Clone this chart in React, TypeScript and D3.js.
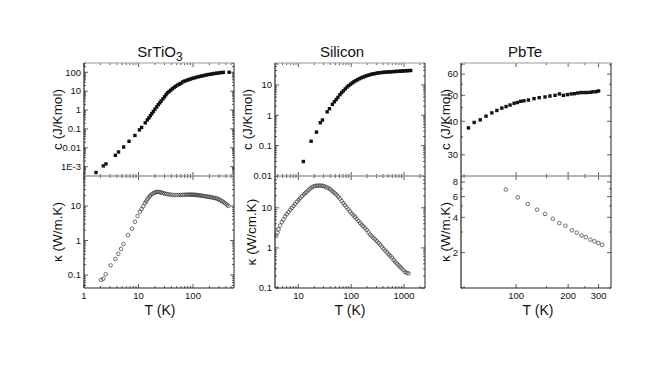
import React from 'react';
import * as d3 from 'd3';

const FONT = '"Liberation Sans", Arial, Helvetica, sans-serif';

// ---- SrTiO3 ----
const strHeatT = [1.66, 2.26, 2.53, 3.76, 4.3, 5.35, 6.7, 8.6, 10.4, 11.4, 13.3, 14.5, 15.5, 16.5, 17.5, 18.7, 20, 21.5, 23, 24.5, 26, 28, 30, 32, 34, 36.5, 39, 42, 45, 48, 52, 56, 60, 65, 70, 76, 82, 89, 96, 104, 113, 123, 134, 146, 160, 175, 192, 210, 230, 252, 276, 300, 330, 360, 460];
const strHeatC = [4.9e-4, 1.1e-3, 1.4e-3, 4e-3, 6e-3, 0.011, 0.022, 0.045, 0.089, 0.12, 0.21, 0.3, 0.38, 0.5, 0.64, 0.83, 1.1, 1.45, 1.9, 2.4, 3.0, 3.9, 5.0, 6.5, 8.2, 9.6, 11.3, 13.5, 15.8, 18, 21, 23.5, 26, 31, 34, 37, 40, 43.5, 47, 50, 53.5, 57, 60.5, 64, 68, 72, 76, 79, 83, 87, 90, 93, 96, 99, 100];
const strKappaT = [2.05, 2.26, 2.5, 3.08, 3.76, 4.26, 4.77, 5.3, 6.4, 7.6, 8.6, 9.6, 10.6, 11.4, 12.2, 13.1, 13.8, 14.5, 15.3, 16.2, 17.2, 18.2, 19.3, 20.5, 21.8, 23.2, 24.7, 26.3, 28, 30, 32.5, 35, 38, 41.5, 45.5, 50, 55, 60, 65, 70, 75, 80, 85, 90, 95, 100, 106, 112, 118, 124, 131, 138, 146, 155, 165, 176, 188, 200, 213, 227, 242, 258, 275, 292, 310, 330, 350, 372, 395, 420, 445];
const strKappa = [0.072, 0.078, 0.105, 0.19, 0.29, 0.41, 0.57, 0.79, 1.44, 2.2, 3.5, 5.1, 6.8, 8.2, 9.8, 12, 13.5, 15.6, 17.5, 19.5, 21.3, 22.8, 24, 25, 25.5, 25.6, 25.2, 24.5, 23.8, 23, 22.3, 21.8, 21.4, 21.1, 20.9, 20.8, 20.8, 20.9, 21, 21.1, 21.2, 21.3, 21.3, 21.3, 21.3, 21.2, 21.1, 21, 20.8, 20.6, 20.3, 20.1, 19.8, 19.5, 19.1, 18.8, 18.6, 18.4, 18, 17.6, 17.2, 16.9, 16.5, 15.7, 15, 14.2, 13.4, 12.6, 11.8, 10.9, 10];

// ---- Silicon ----
const siHeatT = [12.4, 17.4, 22, 26, 28.5, 35, 38.7, 44, 48, 52, 56, 61, 66, 71, 77, 83, 90, 97, 105, 113, 122, 132, 143, 155, 168, 182, 197, 213, 230, 249, 270, 292, 316, 342, 370, 400, 433, 469, 508, 550, 595, 644, 697, 755, 817, 885, 958, 1037, 1123, 1216, 1340];
const siHeatC = [0.03, 0.14, 0.28, 0.57, 0.7, 1.3, 1.65, 2.3, 2.8, 3.3, 3.9, 4.8, 5.6, 6.4, 7.4, 8.5, 9.5, 10.6, 11.7, 12.8, 13.9, 15, 16.1, 17.2, 18.2, 19.2, 20.2, 21.1, 22, 22.8, 23.5, 24.1, 24.7, 25.2, 25.6, 26, 26.3, 26.6, 26.9, 27.2, 27.4, 27.7, 27.9, 28.1, 28.4, 28.6, 28.9, 29.2, 29.5, 29.8, 30];
const siKappaT = [3.8, 4.0, 4.2, 4.5, 4.85, 5.2, 5.6, 6.0, 6.5, 7.0, 7.5, 8.1, 8.7, 9.4, 10.1, 10.8, 11.7, 12.6, 13.5, 14.4, 15.5, 16.7, 17.9, 19.3, 20.8, 22.3, 24, 25.8, 27.7, 29.7, 32, 34.5, 37, 40, 43, 46, 49.5, 53, 57, 61, 66, 71, 76, 82, 88, 95, 102, 110, 118, 127, 137, 147, 158, 170, 183, 197, 212, 228, 245, 264, 284, 306, 330, 355, 382, 410, 442, 476, 512, 550, 592, 636, 680, 730, 785, 840, 900, 970, 1050, 1130, 1220];
const siKappa = [2.0, 2.4, 2.9, 3.6, 4.4, 5.1, 6.1, 6.9, 7.8, 8.9, 9.9, 11.2, 12.5, 14.1, 15.7, 17.4, 19.5, 21.5, 23.3, 25, 27.5, 30, 32.4, 34, 35, 35.5, 35.8, 35.7, 35.4, 35, 33.8, 32.3, 30.7, 29, 26.7, 24.6, 22.8, 21, 18.9, 16.9, 14.7, 13, 11.6, 10.3, 9.1, 8.1, 7.2, 6.5, 5.9, 5.3, 4.7, 4.2, 3.8, 3.45, 3.1, 2.8, 2.45, 2.15, 1.95, 1.78, 1.62, 1.47, 1.33, 1.2, 1.07, 0.95, 0.86, 0.77, 0.69, 0.63, 0.57, 0.5, 0.45, 0.41, 0.37, 0.34, 0.31, 0.28, 0.25, 0.24, 0.23];

// ---- PbTe ----
const pbHeatT = [53, 57.2, 62, 67, 72.4, 77.4, 82.7, 87.5, 92.3, 97.4, 101.8, 106.4, 111, 117.8, 127, 136, 147, 157, 168, 178, 187.7, 198, 208, 217, 227, 237, 247, 257, 268, 278, 290, 300];
const pbHeatC = [37.8, 39.6, 40.5, 41.8, 43.0, 43.9, 44.8, 45.4, 46.0, 46.7, 47.0, 47.5, 47.7, 48.0, 48.6, 49.0, 49.3, 49.7, 50, 50.6, 50, 50.3, 50.6, 50.7, 51, 51.2, 51.2, 51.2, 51.3, 51.5, 51.6, 51.9];
const pbKappaT = [87.2, 102.3, 116.8, 132.3, 147, 163, 178, 193, 210, 224, 239, 253, 269, 284, 299, 315];
const pbKappa = [6.9, 5.92, 5.2, 4.65, 4.28, 3.89, 3.57, 3.39, 3.1, 2.96, 2.8, 2.71, 2.58, 2.5, 2.42, 2.33];

// tick labels
const strHeatLabels = [0.001, 0.01, 0.1, 1, 10, 100];
const strKappaLabels = [0.1, 1, 10];
const strTLabels = [1, 10, 100];
const siHeatLabels = [0.01, 0.1, 1, 10];
const siKappaLabels = [0.1, 1, 10];
const siTLabels = [10, 100, 1000];
const pbTTicks = [50, 100, 150, 200, 250, 300];
const pbTLabels = [100, 200, 300];
const pbHeatTicks = [25, 30, 35, 40, 45, 50, 55, 60, 65];
const pbHeatLabels = [30, 40, 50, 60];
const pbKappaTicks = [1, 2, 3, 4, 5, 6, 7, 8, 9];
const pbKappaLabels = [2, 4, 6, 8];

const same = (a: number, b: number) => Math.abs(Math.log10(a) - Math.log10(b)) < 1e-6;
const zip = (a: number[], b: number[]) => a.map((v, i) => [v, b[i]] as [number, number]);
const fmt = (v: number) => (same(v, 0.001) ? '1E-3' : String(v));

const DARK = '#222';
const GRAY = '#9a9a9a';

function Box({ x, y, xTicks, xLabels, yTicks, yLabels, showX, pts, filled, yLabel }: any) {
  const [x0, x1] = x.range();
  const [yb, yt] = y.range();
  const isTop = !showX;
  const inY = (v: number) => y(v) <= yb + 0.01 && y(v) >= yt - 0.01;
  const inX = (v: number) => x(v) >= x0 - 0.01 && x(v) <= x1 + 0.01;
  return (
    <g>
      {xTicks.filter(inX).map((v: number, i: number) => {
        const px = x(v);
        const len = xLabels.some((l: number) => same(l, v)) ? 4 : 2;
        return (
          <g key={'xt' + i} stroke="#333" strokeWidth={0.8}>
            <line x1={px} x2={px} y1={yb} y2={yb - len} />
            <line x1={px} x2={px} y1={yt} y2={yt + len} />
          </g>
        );
      })}
      {yTicks.filter(inY).map((v: number, i: number) => {
        const py = y(v);
        const len = yLabels.some((l: number) => same(l, v)) ? 4 : 2;
        return (
          <g key={'yt' + i} stroke="#333" strokeWidth={0.8}>
            <line x1={x0} x2={x0 + len} y1={py} y2={py} />
            <line x1={x1} x2={x1 - len} y1={py} y2={py} />
          </g>
        );
      })}
      <line x1={x0} x2={x1} y1={yt} y2={yt} stroke={GRAY} strokeWidth={1.2} />
      <line x1={x0} x2={x1} y1={yb} y2={yb} stroke={isTop ? GRAY : DARK} strokeWidth={1.2} />
      <line x1={x0} x2={x0} y1={yt} y2={yb} stroke={DARK} strokeWidth={1.2} />
      <line x1={x1} x2={x1} y1={yt} y2={yb} stroke={DARK} strokeWidth={1} />
      {yLabels.map((v: number, i: number) => (
        <text key={'yl' + i} x={x0 - 3} y={y(v)} dy="0.35em" textAnchor="end" fontSize={9.5} fill="#111">
          {fmt(v)}
        </text>
      ))}
      {showX &&
        xLabels.map((v: number, i: number) => (
          <text key={'xl' + i} x={x(v)} y={yb + 10.5} textAnchor="middle" fontSize={9.5} fill="#111">
            {fmt(v)}
          </text>
        ))}
      <text
        transform={`translate(${yLabel.x},${(yt + yb) / 2}) rotate(-90)`}
        dy="0.35em"
        textAnchor="middle"
        fontSize={13.5}
        fill="#111"
      >
        {yLabel.text}
      </text>
      {pts.map(([t, v]: [number, number], i: number) =>
        filled ? (
          <rect key={'p' + i} x={x(t) - 1.7} y={y(v) - 1.7} width={3.4} height={3.4} fill="#111" />
        ) : (
          <circle key={'p' + i} cx={x(t)} cy={y(v)} r={1.8} fill="none" stroke="#333" strokeWidth={0.7} />
        )
      )}
    </g>
  );
}

export default function App() {
  const yTop = 63, yMid = 176, yBot = 288;

  // SrTiO3
  const sx = d3.scaleLog().domain([1, 565]).range([84, 234]);
  const sy1 = d3.scaleLog().domain([3.2e-4, 310]).range([yMid, yTop]);
  const sy2 = d3.scaleLog().domain([0.042, 74]).range([yBot, yMid]);
  // Silicon
  const ix = d3.scaleLog().domain([3.6, 2500]).range([275, 425]);
  const iy1 = d3.scaleLog().domain([0.01, 53]).range([yMid, yTop]);
  const iy2 = d3.scaleLog().domain([0.1, 62]).range([yBot, yMid]);
  // PbTe
  const px = d3.scaleLog().domain([48, 354]).range([461, 611]);
  const py1 = d3.scaleLog().domain([25, 66]).range([yMid, yTop]);
  const py2 = d3.scaleLog().domain([1, 9]).range([yBot, yMid]);

  const titleY = 57;
  const xTitleY = 315;

  return (
    <svg
      width={664}
      height={374}
      style={{ position: 'absolute', left: 0, top: 0, background: '#fff' }}
      fontFamily={FONT}
    >
      <rect width={664} height={374} fill="#fff" />
      {/* SrTiO3 */}
      <text x={160} y={titleY} textAnchor="middle" fontSize={15} fill="#111">
        SrTiO<tspan dy={4} fontSize={12}>3</tspan>
      </text>
      <Box x={sx} y={sy1} xTicks={sx.ticks()} xLabels={strTLabels} yTicks={sy1.ticks()} yLabels={strHeatLabels}
        showX={false} pts={zip(strHeatT, strHeatC)} filled yLabel={{ x: 57, text: 'c (J/Kmol)' }} />
      <Box x={sx} y={sy2} xTicks={sx.ticks()} xLabels={strTLabels} yTicks={sy2.ticks()} yLabels={strKappaLabels}
        showX pts={zip(strKappaT, strKappa)} filled={false} yLabel={{ x: 57, text: 'κ (W/m.K)' }} />
      <text x={160} y={xTitleY} textAnchor="middle" fontSize={14} fill="#111">T (K)</text>

      {/* Silicon */}
      <text x={342} y={titleY} textAnchor="middle" fontSize={15} fill="#111">Silicon</text>
      <Box x={ix} y={iy1} xTicks={ix.ticks()} xLabels={siTLabels} yTicks={iy1.ticks()} yLabels={siHeatLabels}
        showX={false} pts={zip(siHeatT, siHeatC)} filled yLabel={{ x: 247, text: 'c (J/Kmol)' }} />
      <Box x={ix} y={iy2} xTicks={ix.ticks()} xLabels={siTLabels} yTicks={iy2.ticks()} yLabels={siKappaLabels}
        showX pts={zip(siKappaT, siKappa)} filled={false} yLabel={{ x: 251, text: 'κ (W/cm.K)' }} />
      <text x={350} y={xTitleY} textAnchor="middle" fontSize={14} fill="#111">T (K)</text>

      {/* PbTe */}
      <text x={525} y={titleY} textAnchor="middle" fontSize={15} fill="#111">PbTe</text>
      <Box x={px} y={py1} xTicks={pbTTicks} xLabels={pbTLabels} yTicks={pbHeatTicks} yLabels={pbHeatLabels}
        showX={false} pts={zip(pbHeatT, pbHeatC)} filled yLabel={{ x: 445, text: 'c (J/Kmol)' }} />
      <Box x={px} y={py2} xTicks={pbTTicks} xLabels={pbTLabels} yTicks={pbKappaTicks} yLabels={pbKappaLabels}
        showX pts={zip(pbKappaT, pbKappa)} filled={false} yLabel={{ x: 445, text: 'κ (W/m.K)' }} />
      <text x={538} y={xTitleY} textAnchor="middle" fontSize={14} fill="#111">T (K)</text>
    </svg>
  );
}
